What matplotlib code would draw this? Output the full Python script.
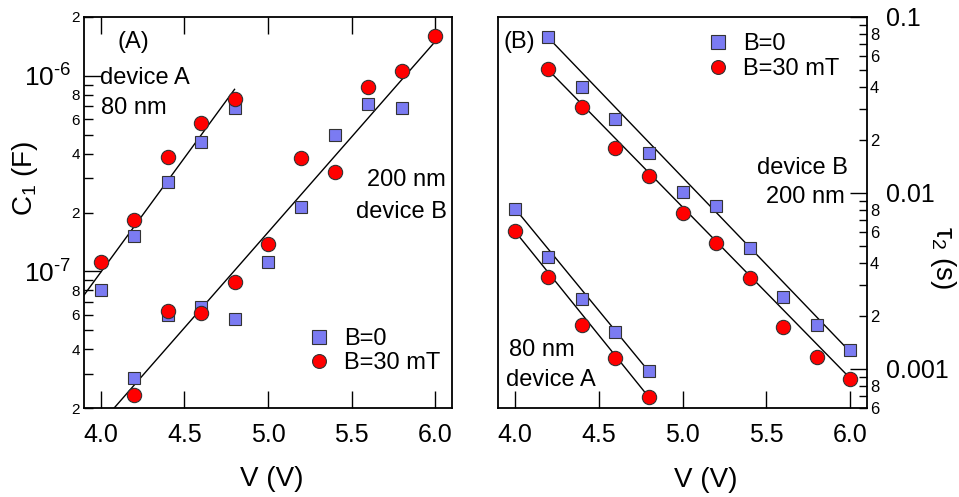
import matplotlib
matplotlib.use("Agg")
import matplotlib.pyplot as plt
from matplotlib.ticker import FixedLocator, FixedFormatter
from matplotlib.lines import Line2D

plt.rcParams['font.family'] = ['Liberation Sans', 'DejaVu Sans']
plt.rcParams['mathtext.fontset'] = 'custom'
plt.rcParams['mathtext.rm'] = 'Liberation Sans'
plt.rcParams['mathtext.it'] = 'Liberation Sans:italic'
plt.rcParams['mathtext.sf'] = 'Liberation Sans'

# ---------------- data ----------------
# Panel A: C1 (F) vs V
V_A = [4.0, 4.2, 4.4, 4.6, 4.8]
C1_A_B0 = [8.0e-8, 1.52e-7, 2.88e-7, 4.57e-7, 6.82e-7]
C1_A_B30 = [1.11e-7, 1.83e-7, 3.86e-7, 5.72e-7, 7.6e-7]

V_B0_devB = [4.2, 4.4, 4.6, 4.8, 5.0, 5.2, 5.4, 5.6, 5.8]
C1_B_B0 = [2.84e-8, 5.98e-8, 6.6e-8, 5.68e-8, 1.11e-7, 2.13e-7, 4.98e-7, 7.18e-7, 6.87e-7]
V_B30_devB = [4.2, 4.4, 4.6, 4.8, 5.0, 5.2, 5.4, 5.6, 5.8, 6.0]
C1_B_B30 = [2.33e-8, 6.29e-8, 6.1e-8, 8.85e-8, 1.376e-7, 3.81e-7, 3.23e-7, 8.8e-7, 1.059e-6, 1.6e-6]

# fit lines (endpoints)
fitC_A_V = [3.88, 4.8]
fitC_A_val = [7.16e-8, 8.53e-7]
fitC_B_V = [4.0, 6.0]
fitC_B_val = [1.67e-8, 1.5e-6]

# Panel B: tau2 (s) vs V
V_tauA = [4.0, 4.2, 4.4, 4.6, 4.8]
tau_A_B0 = [0.00811, 0.00435, 0.0025, 0.00162, 0.00097]
tau_A_B30 = [0.00608, 0.00332, 0.00178, 0.00115, 0.00069]
V_tauB = [4.2, 4.4, 4.6, 4.8, 5.0, 5.2, 5.4, 5.6, 5.8, 6.0]
tau_B_B0 = [0.0773, 0.0402, 0.0263, 0.0169, 0.0101, 0.00847, 0.00485, 0.00258, 0.00178, 0.00128]
tau_B_B30 = [0.0506, 0.0309, 0.0181, 0.0125, 0.00767, 0.00518, 0.00328, 0.00174, 0.001165, 0.000874]

fitT_A_B0_V = [4.0, 4.8]
fitT_A_B0_val = [0.00818, 0.000966]
fitT_A_B30_V = [4.0, 4.8]
fitT_A_B30_val = [0.00608, 0.00069]
fitT_B_B0_V = [4.2, 6.0]
fitT_B_B0_val = [0.0763, 0.00125]
fitT_B_B30_V = [4.2, 6.0]
fitT_B_B30_val = [0.050, 0.000885]

legend_labels = ["B=0", "B=30 mT"]

x_ticks = [4.0, 4.5, 5.0, 5.5, 6.0]
x_ticklabels = ["4.0", "4.5", "5.0", "5.5", "6.0"]

yA_major = [1e-7, 1e-6]
yA_major_labels = ["$10^{\u20107}$", "$10^{\u20106}$"]
yA_minor = [m * d for d in (1e-8, 1e-7) for m in range(2, 10)] + [2e-6]
yA_minor_labels = [str(m) if m % 2 == 0 else "" for d in (1e-8, 1e-7) for m in range(2, 10)] + ["2"]

yB_major = [0.001, 0.01, 0.1]
yB_major_labels = ["0.001", "0.01", "0.1"]
yB_minor = [m * 1e-4 for m in range(6, 10)] + [m * d for d in (1e-3, 1e-2) for m in range(2, 10)]
yB_minor_labels = [str(m) if m % 2 == 0 else "" for m in range(6, 10)] + \
    [str(m) if m % 2 == 0 else "" for d in (1e-3, 1e-2) for m in range(2, 10)]

# ---------------- style ----------------
blue_fc = '#7b7bf2'
red_fc = '#ff0000'
edge = '#333333'
sq_ms = 8
ci_ms = 10.3
ann_fs = 17

fig = plt.figure(figsize=(9.59, 4.97), dpi=100)
W, H = 959, 497
axA = fig.add_axes([84 / W, (H - 408) / H, 368 / W, 391 / H])
axB = fig.add_axes([498 / W, (H - 408) / H, 369 / W, 391 / H])

for ax in (axA, axB):
    for s in ax.spines.values():
        s.set_linewidth(1.3)
    ax.set_xlim(3.9, 6.1)
    ax.set_yscale('log')
    ax.xaxis.set_major_locator(FixedLocator(x_ticks))
    ax.xaxis.set_major_formatter(FixedFormatter(x_ticklabels))
    ax.xaxis.set_minor_locator(FixedLocator([]))

def leg_handles():
    return [Line2D([], [], ls='none', marker='s', ms=9.5, mfc=blue_fc, mec=edge, mew=0.8),
            Line2D([], [], ls='none', marker='o', ms=10, mfc=red_fc, mec=edge, mew=0.8)]

# ---- panel A ----
axA.plot(fitC_A_V, fitC_A_val, color='black', lw=1.0, zorder=2)
axA.plot(fitC_B_V, fitC_B_val, color='black', lw=1.0, zorder=2)
axA.plot(V_A, C1_A_B0, ls='none', marker='s', ms=sq_ms, mfc=blue_fc, mec=edge, mew=0.8, zorder=3)
axA.plot(V_B0_devB, C1_B_B0, ls='none', marker='s', ms=sq_ms, mfc=blue_fc, mec=edge, mew=0.8, zorder=3)
axA.plot(V_A, C1_A_B30, ls='none', marker='o', ms=ci_ms, mfc=red_fc, mec=edge, mew=0.8, zorder=4)
axA.plot(V_B30_devB, C1_B_B30, ls='none', marker='o', ms=ci_ms, mfc=red_fc, mec=edge, mew=0.8, zorder=4)
axA.set_ylim(2e-8, 2e-6)
axA.yaxis.set_major_locator(FixedLocator(yA_major))
axA.yaxis.set_major_formatter(FixedFormatter(yA_major_labels))
axA.yaxis.set_minor_locator(FixedLocator(yA_minor))
axA.yaxis.set_minor_formatter(FixedFormatter(yA_minor_labels))
axA.tick_params(axis='x', which='major', direction='in', top=True, bottom=True,
                length=12, width=1.0, pad=11, labelsize=18)
axA.tick_params(axis='y', which='major', direction='in', left=True, right=False,
                length=12, width=1.0, pad=9, labelsize=19)
axA.tick_params(axis='y', which='minor', direction='in', left=True, right=False,
                length=6.5, width=1.0, pad=3, labelsize=11)

axA.text(0.09, 0.936, "(A)", transform=axA.transAxes, fontsize=ann_fs, ha='left', va='center')
axA.text(0.043, 0.844, "device A", transform=axA.transAxes, fontsize=ann_fs, ha='left', va='center')
axA.text(0.046, 0.767, "80 nm", transform=axA.transAxes, fontsize=ann_fs, ha='left', va='center')
axA.text(0.984, 0.583, "200 nm", transform=axA.transAxes, fontsize=ann_fs, ha='right', va='center')
axA.text(0.986, 0.501, "device B", transform=axA.transAxes, fontsize=ann_fs, ha='right', va='center')
axA.legend(leg_handles(), legend_labels, loc='upper left', bbox_to_anchor=(0.60, 0.205),
           frameon=False, fontsize=ann_fs, borderpad=0, handlelength=1.2, handletextpad=0.45,
           labelspacing=0.1, borderaxespad=0)

# ---- panel B ----
for fv, fval in ((fitT_A_B0_V, fitT_A_B0_val), (fitT_A_B30_V, fitT_A_B30_val),
                 (fitT_B_B0_V, fitT_B_B0_val), (fitT_B_B30_V, fitT_B_B30_val)):
    axB.plot(fv, fval, color='black', lw=1.0, zorder=2)
axB.plot(V_tauA, tau_A_B0, ls='none', marker='s', ms=sq_ms, mfc=blue_fc, mec=edge, mew=0.8, zorder=3)
axB.plot(V_tauB, tau_B_B0, ls='none', marker='s', ms=sq_ms, mfc=blue_fc, mec=edge, mew=0.8, zorder=3)
axB.plot(V_tauA, tau_A_B30, ls='none', marker='o', ms=ci_ms, mfc=red_fc, mec=edge, mew=0.8, zorder=4)
axB.plot(V_tauB, tau_B_B30, ls='none', marker='o', ms=ci_ms, mfc=red_fc, mec=edge, mew=0.8, zorder=4)
axB.set_ylim(6e-4, 0.1)
axB.yaxis.tick_right()
axB.yaxis.set_major_locator(FixedLocator(yB_major))
axB.yaxis.set_major_formatter(FixedFormatter(yB_major_labels))
axB.yaxis.set_minor_locator(FixedLocator(yB_minor))
axB.yaxis.set_minor_formatter(FixedFormatter(yB_minor_labels))
axB.tick_params(axis='x', which='major', direction='in', top=False, bottom=True,
                length=12, width=1.0, pad=11, labelsize=18)
axB.tick_params(axis='y', which='major', direction='in', left=False, right=True,
                labelleft=False, labelright=True, length=12, width=1.0, pad=14, labelsize=18)
axB.tick_params(axis='y', which='minor', direction='in', left=False, right=True,
                labelleft=False, labelright=True, length=6, width=1.0, pad=2, labelsize=12)

axB.text(0.016, 0.936, "(B)", transform=axB.transAxes, fontsize=ann_fs, ha='left', va='center')
axB.text(0.949, 0.614, "device B", transform=axB.transAxes, fontsize=ann_fs, ha='right', va='center')
axB.text(0.940, 0.540, "200 nm", transform=axB.transAxes, fontsize=ann_fs, ha='right', va='center')
axB.text(0.030, 0.148, "80 nm", transform=axB.transAxes, fontsize=ann_fs, ha='left', va='center')
axB.text(0.022, 0.072, "device A", transform=axB.transAxes, fontsize=ann_fs, ha='left', va='center')
axB.legend(leg_handles(), legend_labels, loc='upper left', bbox_to_anchor=(0.558, 0.958),
           frameon=False, fontsize=ann_fs, borderpad=0, handlelength=1.2, handletextpad=0.45,
           labelspacing=0.1, borderaxespad=0)

# axis labels
fig.text(272 / W, 1 - 479 / H, "V (V)", fontsize=20, ha='center', va='center')
fig.text(706 / W, 1 - 480 / H, "V (V)", fontsize=20, ha='center', va='center')
fig.text(25 / W, 1 - 178 / H, r"C$_1$ (F)", fontsize=20, ha='center', va='center', rotation=90)
fig.text(943 / W, 1 - 258 / H, r"τ$_2$ (s)", fontsize=20, ha='center', va='center', rotation=270)

fig.savefig("out.png", dpi=100)
